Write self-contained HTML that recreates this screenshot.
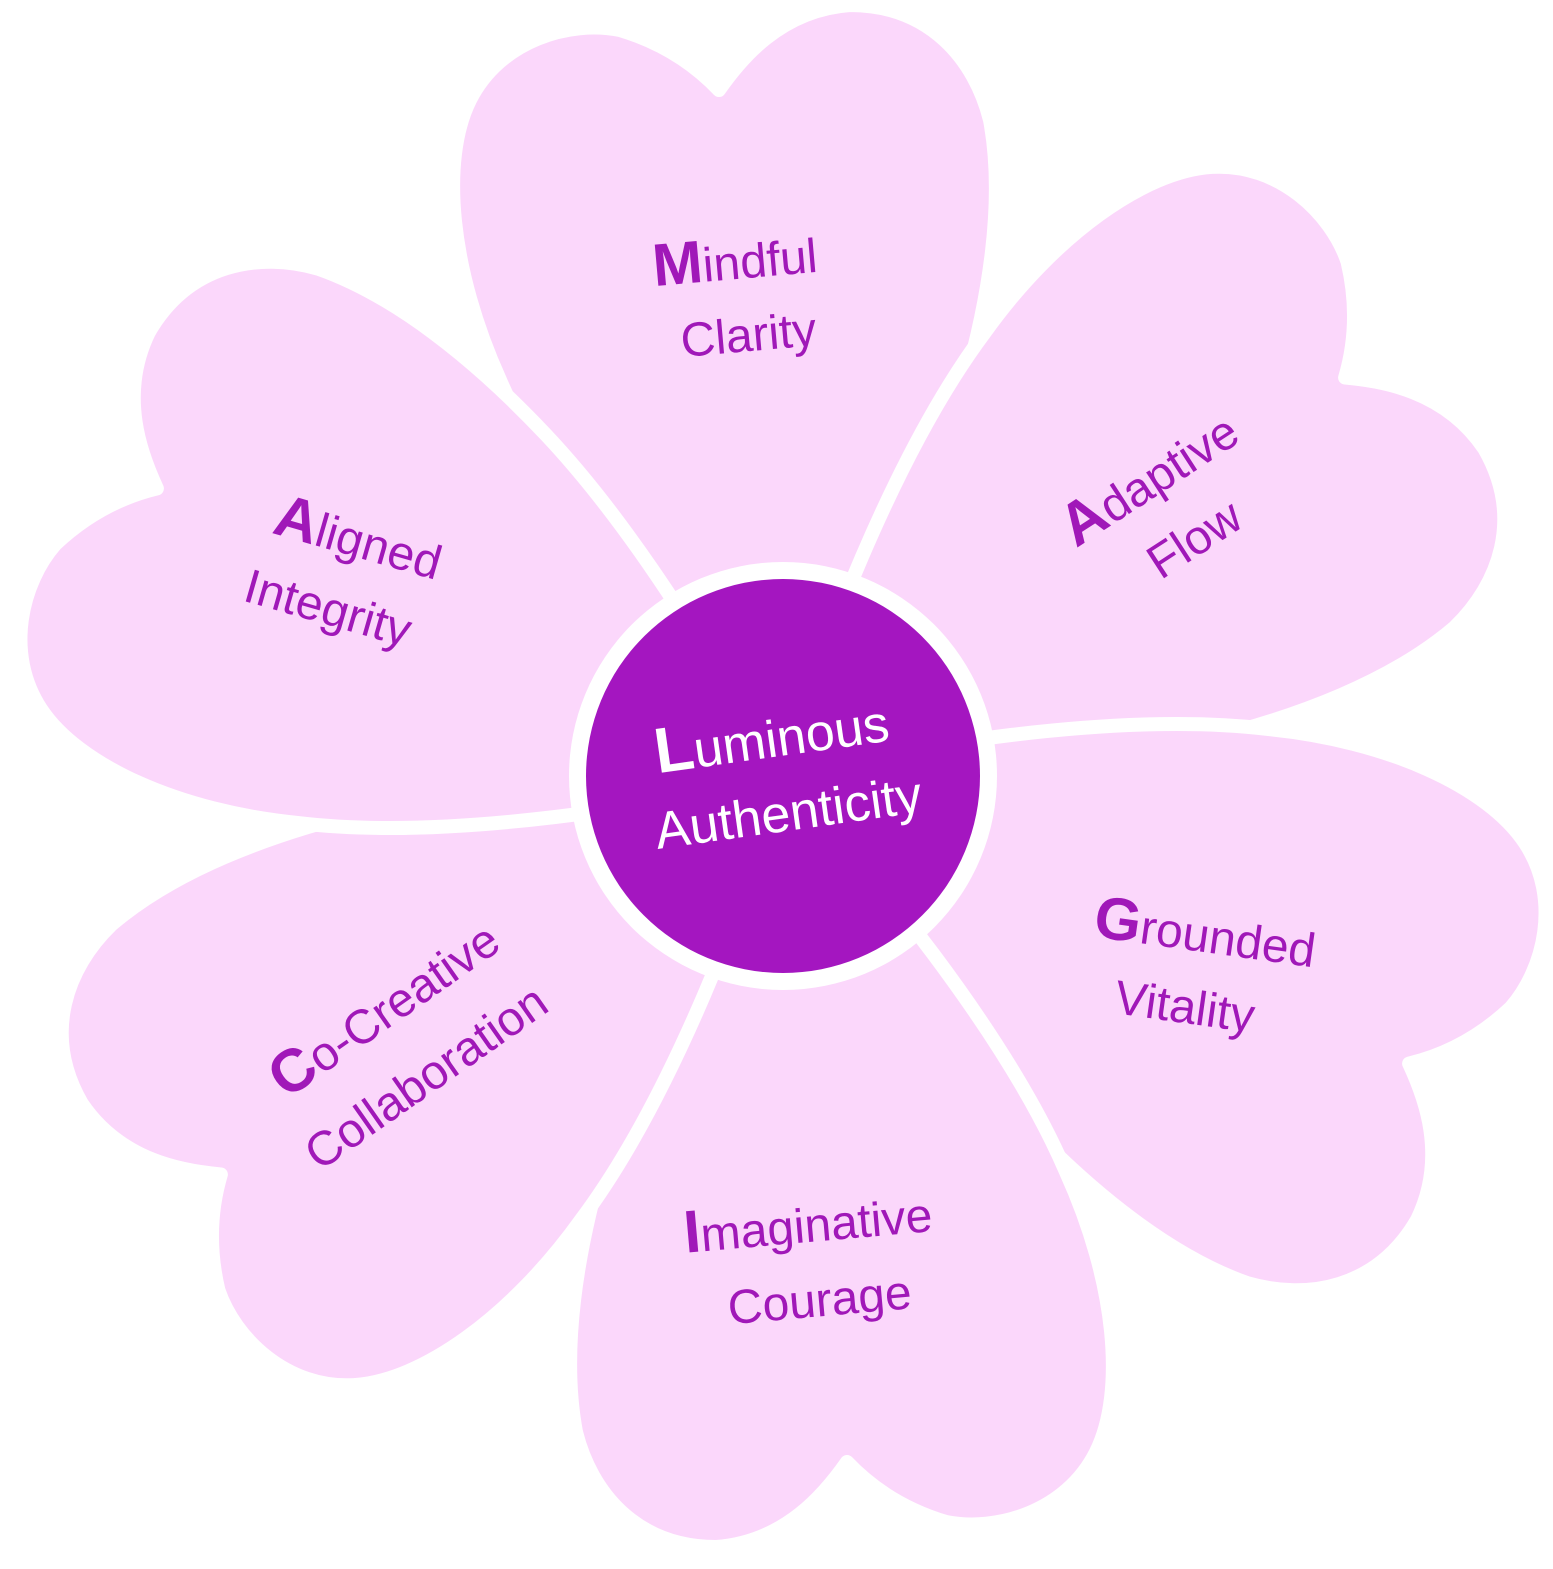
<!DOCTYPE html>
<html><head><meta charset="utf-8"><style>
html,body{margin:0;padding:0;background:#fff;}
svg{display:block;}
text{font-family:"Liberation Sans",sans-serif;}
</style></head><body>
<svg width="1553" height="1569" viewBox="0 0 1553 1569" xmlns="http://www.w3.org/2000/svg">
<defs>
<path id="petal" d="M 783 776 C 700 690, 560 520, 500 380 C 450 270, 440 160, 470 100 C 500 40, 570 20, 620 30 C 670 45, 700 70, 719 90 C 740 60, 780 10, 850 5 C 930 5, 975 60, 990 120 C 1005 200, 990 300, 960 400 C 930 500, 880 600, 783 776 Z"/>
</defs>
<g fill="#fbd7fb" stroke="#ffffff" stroke-width="14" stroke-linejoin="round">
<use href="#petal" transform="rotate(0 783 776)"/>
<use href="#petal" transform="rotate(60 783 776)"/>
<use href="#petal" transform="rotate(120 783 776)"/>
<use href="#petal" transform="rotate(180 783 776)"/>
<use href="#petal" transform="rotate(240 783 776)"/>
<use href="#petal" transform="rotate(300 783 776)"/>
</g>
<circle cx="783" cy="776" r="214" fill="#ffffff"/>
<circle cx="783" cy="776" r="197" fill="#a416c0"/>
<g fill="#a018b8" font-size="48" text-anchor="middle">
<g transform="translate(735 262) rotate(-5)"><text x="0" y="17"><tspan font-weight="bold" font-size="60">M</tspan>indful</text><text x="7" y="90">Clarity</text></g>
<g transform="translate(1150 480) rotate(-33)"><text x="0" y="17"><tspan font-weight="bold" font-size="60">A</tspan>daptive</text><text x="5" y="90">Flow</text></g>
<g transform="translate(1205 935) rotate(8)"><text x="0" y="17"><tspan font-weight="bold" font-size="60">G</tspan>rounded</text><text x="-10" y="90">Vitality</text></g>
<g transform="translate(808 1225) rotate(-5)"><text x="0" y="17"><tspan font-weight="bold" font-size="60">I</tspan>maginative</text><text x="5" y="92">Courage</text></g>
<g transform="translate(385 1010) rotate(-35)"><text x="0" y="17"><tspan font-weight="bold" font-size="60">C</tspan>o-Creative</text><text x="-5" y="95">Collaboration</text></g>
<g transform="translate(358 540) rotate(16)"><text x="0" y="17"><tspan font-weight="bold" font-size="60">A</tspan>ligned</text><text x="-10" y="90">Integrity</text></g>
</g>
<g fill="#ffffff" font-size="52" text-anchor="middle" transform="translate(772 740) rotate(-8)">
<text x="0" y="17"><tspan font-weight="bold" font-size="64">L</tspan>uminous</text>
<text x="6" y="92">Authenticity</text>
</g>
</svg>
</body></html>
